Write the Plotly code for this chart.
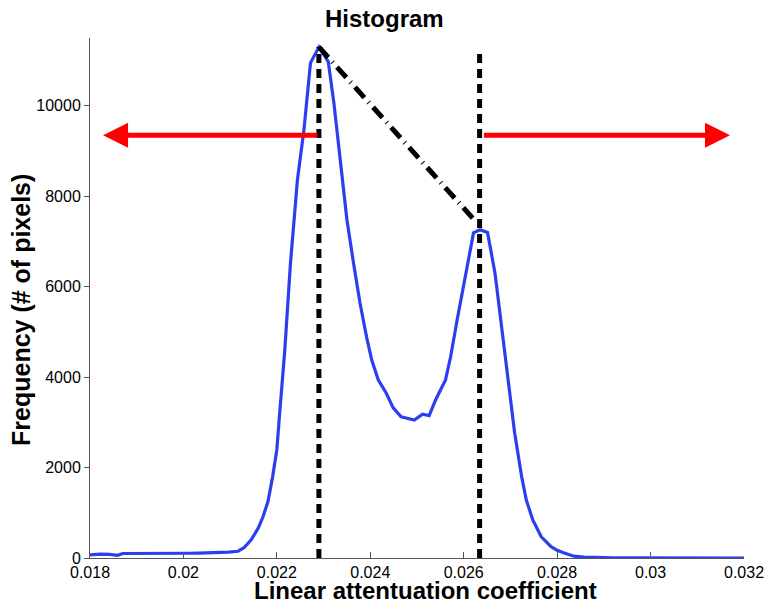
import plotly.graph_objects as go

# Histogram curve
coef = [0.01800, 0.01821, 0.01842, 0.01859, 0.01870, 0.01885, 0.01906, 0.01927,
        0.01948, 0.01969, 0.01990, 0.02011, 0.02033, 0.02054, 0.02075, 0.02096,
        0.02117, 0.02130, 0.02145, 0.02160, 0.02170, 0.02181, 0.02191, 0.02200,
        0.02206, 0.02217, 0.02229, 0.02244, 0.02258, 0.02272, 0.02290, 0.02310,
        0.02322, 0.02336, 0.02350, 0.02364, 0.02378, 0.02392, 0.02403, 0.02417,
        0.02434, 0.02449, 0.02466, 0.02494, 0.02512, 0.02526, 0.02540, 0.02561,
        0.02572, 0.02586, 0.02604, 0.02621, 0.02635, 0.02651, 0.02667, 0.02681,
        0.02695, 0.02709, 0.02724, 0.02734, 0.02748, 0.02766, 0.02787, 0.02800,
        0.02815, 0.02836, 0.02857, 0.02878, 0.02921, 0.02984, 0.03090, 0.03200]
freq = [70, 85, 80, 60, 100, 100, 95, 90,
        100, 95, 100, 105, 110, 115, 125, 130,
        150, 230, 400, 660, 900, 1250, 1800, 2400,
        3200, 4600, 6500, 8360, 9470, 10950, 11300, 10980,
        10070, 8740, 7480, 6530, 5640, 4890, 4380, 3940,
        3650, 3320, 3120, 3050, 3180, 3150, 3500, 3940,
        4450, 5270, 6220, 7190, 7260, 7200, 6300, 5150,
        3900, 2770, 1800, 1280, 840, 470, 250, 170,
        110, 40, 20, 10, 5, 3, 2, 0]

# Peak markers
peak_x = [0.02290, 0.02634]
peak_top = [11300, 11200]
diag_x = [0.02290, 0.02625]
diag_y = [11300, 7450]

# Arrows: (tail x, tip x, y)
arrow_left = (0.02290, 0.01828, 9350)
arrow_right = (0.02640, 0.03170, 9350)

x_ticks = [0.018, 0.02, 0.022, 0.024, 0.026, 0.028, 0.03, 0.032]
x_ticklabels = ["0.018", "0.02", "0.022", "0.024", "0.026", "0.028", "0.03", "0.032"]
y_ticks = [0, 2000, 4000, 6000, 8000, 10000]
y_ticklabels = ["0", "2000", "4000", "6000", "8000", "10000"]

FONT = "Liberation Sans, Arial, Helvetica, sans-serif"

fig = go.Figure()
fig.add_trace(go.Scatter(x=coef, y=freq, mode="lines",
                         line=dict(color="#2b3ff0", width=3.2), showlegend=False))
for px, pt in zip(peak_x, peak_top):
    fig.add_trace(go.Scatter(x=[px, px], y=[0, pt], mode="lines",
                             line=dict(color="black", width=5, dash="9px,6px"),
                             showlegend=False))
fig.add_trace(go.Scatter(x=diag_x, y=diag_y, mode="lines",
                         line=dict(color="black", width=5, dash="14px,6px,1px,6px"),
                         showlegend=False))

annotations = []
for tail, tip, yv in (arrow_left, arrow_right):
    annotations.append(dict(x=tip, y=yv, ax=tail, ay=yv, xref="x", yref="y",
                            axref="x", ayref="y", showarrow=True, text="",
                            arrowhead=2, arrowsize=1.0, arrowwidth=5,
                            arrowcolor="#ff0000", standoff=0, startstandoff=0))
annotations.append(dict(text="<b>Linear attentuation coefficient</b>", xref="paper", yref="paper",
                        x=0.513, y=0, yshift=-32, showarrow=False, yanchor="middle",
                        font=dict(family=FONT, size=24, color="black")))
annotations.append(dict(text="<b>Frequency (# of pixels)</b>", xref="paper", yref="paper",
                        x=0, xshift=-69, y=0.477, textangle=-90, showarrow=False,
                        xanchor="center", yanchor="middle",
                        font=dict(family=FONT, size=25, color="black")))
annotations.append(dict(text="<b>Histogram</b>", xref="paper", yref="paper",
                        x=(388 - 90) / 662, y=1, yshift=20, showarrow=False,
                        xanchor="center", yanchor="middle",
                        font=dict(family=FONT, size=24, color="black")))

fig.update_layout(
    width=768, height=608,
    margin=dict(l=82, r=24, t=30, b=58, pad=0),
    plot_bgcolor="white", paper_bgcolor="white",
    font=dict(family=FONT, size=16, color="black"),
    annotations=annotations,
    xaxis=dict(range=[0.018, 0.032], tickvals=x_ticks, ticktext=x_ticklabels,
               showgrid=False, zeroline=False, showline=True, linecolor="#555555",
               linewidth=1, ticks="inside", ticklen=6, tickcolor="#555555",
               tickfont=dict(size=16, family=FONT)),
    yaxis=dict(range=[0, 11500], tickvals=y_ticks, ticktext=y_ticklabels,
               showgrid=False, zeroline=False, showline=True, linecolor="#555555",
               linewidth=1, ticks="outside", ticklen=5, tickcolor="#555555",
               tickfont=dict(size=16, family=FONT)),
)

fig.write_html("out.html", config={"displayModeBar": False})
